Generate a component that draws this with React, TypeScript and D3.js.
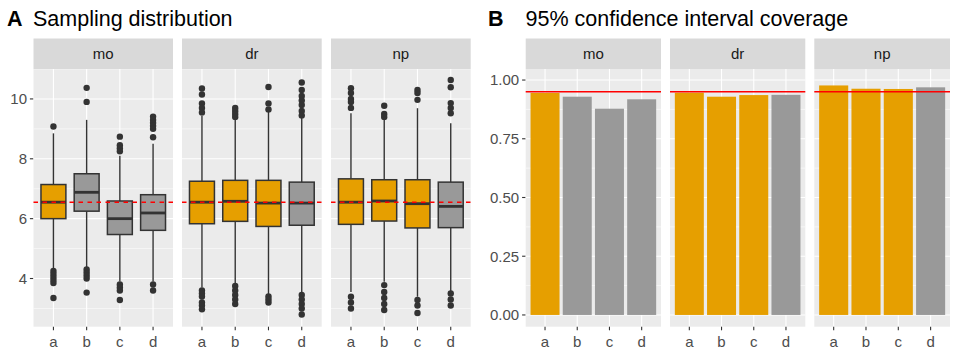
import React from 'react'
import * as d3 from 'd3'

// facets and x categories
const methods = ['mo', 'dr', 'np']
const categories = ['a', 'b', 'c', 'd']

// boxplot stats per category: [lower whisker, q1, median, q3, upper whisker]
const moBoxes = [
    [4.3, 6.0, 6.55, 7.14, 8.85],
    [4.35, 6.25, 6.88, 7.5, 9.3],
    [3.9, 5.47, 6.0, 6.59, 8.1],
    [3.9, 5.61, 6.19, 6.8, 8.5],
]
const drBoxes = [
    [3.7, 5.83, 6.55, 7.25, 9.45],
    [3.85, 5.91, 6.58, 7.28, 9.35],
    [3.45, 5.74, 6.52, 7.28, 9.6],
    [3.5, 5.78, 6.52, 7.22, 9.4],
]
const npBoxes = [
    [3.55, 5.81, 6.55, 7.33, 9.52],
    [3.89, 5.92, 6.59, 7.3, 9.47],
    [3.39, 5.69, 6.5, 7.3, 9.69],
    [3.55, 5.7, 6.41, 7.22, 9.19],
]

// outlying points per category
const moOutliers = [
    [9.08, 4.25, 4.15, 4.05, 3.95, 3.85, 3.35],
    [10.37, 9.9, 4.3, 4.2, 4.1, 4.0, 3.53],
    [8.74, 8.45, 8.35, 8.25, 3.8, 3.7, 3.6, 3.28],
    [9.41, 9.3, 9.2, 9.1, 9.0, 8.72, 3.8, 3.6],
]
const drOutliers = [
    [10.35, 10.15, 9.85, 9.7, 9.55, 3.6, 3.5, 3.4, 3.2, 3.1, 2.97],
    [9.7, 9.6, 9.5, 9.4, 3.75, 3.6, 3.45, 3.3, 3.15],
    [10.4, 9.85, 9.65, 3.4, 3.3, 3.2],
    [10.55, 10.3, 10.1, 9.95, 9.8, 9.6, 9.45, 3.45, 3.3, 3.15, 3.0, 2.8],
]
const npOutliers = [
    [10.36, 10.2, 10.0, 9.9, 9.7, 3.39, 3.2, 3.0],
    [9.77, 9.5, 9.4, 3.78, 3.55, 3.35, 3.15, 2.95],
    [10.3, 10.2, 9.97, 3.28, 3.1, 2.85],
    [10.63, 10.39, 9.86, 9.7, 9.52, 3.5, 3.3, 3.1],
]

// which categories are highlighted (orange)
const moHighlight = [true, false, false, false]
const drHighlight = [true, true, true, false]
const npHighlight = [true, true, true, false]

// coverage of the 95% interval
const moCoverage = [0.945, 0.929, 0.878, 0.918]
const drCoverage = [0.946, 0.929, 0.936, 0.937]
const npCoverage = [0.977, 0.963, 0.962, 0.969]

const trueValue = 6.55
const nominal = 0.95

const boxTicks = [4, 6, 8, 10]
const boxMinor = [3, 5, 7, 9, 11]
const covTicks = [0, 0.25, 0.5, 0.75, 1]
const covMinor = [0.125, 0.375, 0.625, 0.875]

const boxes = [moBoxes, drBoxes, npBoxes]
const outliers = [moOutliers, drOutliers, npOutliers]
const highlights = [moHighlight, drHighlight, npHighlight]
const coverage = [moCoverage, drCoverage, npCoverage]

const ORANGE = '#E69F00'
const GRAY = '#999999'
const DARK = '#333333'
const FONT = '"Liberation Sans", Arial, sans-serif'
const AXIS_SIZE = 15

const stripTop = 38.5
const stripH = 30.5
const plotTop = stripTop + stripH
const plotBottom = 326.7

function Strip({ x0, x1, label }: { x0: number, x1: number, label: string }) {
    return (
        <g>
            <rect x={x0} y={stripTop} width={x1 - x0} height={stripH} fill="#D9D9D9" />
            <text x={(x0 + x1) / 2} y={stripTop + stripH / 2 + 5.5} textAnchor="middle"
                fontSize={AXIS_SIZE} fill="#1A1A1A">{label}</text>
        </g>
    )
}

function Panel({ x0, x1, y, major, minor, children, label }: any) {
    const x = d3.scaleBand().domain(categories).range([x0, x1]).paddingOuter(0.1).paddingInner(0)
    return (
        <g>
            <rect x={x0} y={plotTop} width={x1 - x0} height={plotBottom - plotTop} fill="#EBEBEB" />
            {minor.map((t: number) => (
                <line key={'mn' + t} x1={x0} x2={x1} y1={y(t)} y2={y(t)} stroke="#fff" strokeWidth={0.55} />
            ))}
            {major.map((t: number) => (
                <line key={'mj' + t} x1={x0} x2={x1} y1={y(t)} y2={y(t)} stroke="#fff" strokeWidth={1.1} />
            ))}
            {categories.map(c => {
                const cx = x(c)! + x.bandwidth() / 2
                return (
                    <g key={c}>
                        <line x1={cx} x2={cx} y1={plotTop} y2={plotBottom} stroke="#fff" strokeWidth={1.1} />
                        <line x1={cx} x2={cx} y1={plotBottom} y2={plotBottom + 3.6} stroke={DARK} strokeWidth={1.1} />
                        <text x={cx} y={plotBottom + 20.5} textAnchor="middle" fontSize={AXIS_SIZE} fill="#4D4D4D">{c}</text>
                    </g>
                )
            })}
            {children(x)}
            <Strip x0={x0} x1={x1} label={label} />
        </g>
    )
}

function YAxis({ x0, y, ticks, fmt }: any) {
    return (
        <g>
            {ticks.map((t: number) => (
                <g key={t}>
                    <line x1={x0 - 3.6} x2={x0} y1={y(t)} y2={y(t)} stroke={DARK} strokeWidth={1.1} />
                    <text x={x0 - 6.5} y={y(t) + 5.3} textAnchor="end" fontSize={AXIS_SIZE} fill="#4D4D4D">{fmt(t)}</text>
                </g>
            ))}
        </g>
    )
}

export default function App() {
    const aPanels = [[33.5, 173], [182, 321.7], [331, 470.7]]
    const bPanels = [[525.7, 661], [670, 805.3], [814.3, 950]]
    const yA = d3.scaleLinear().domain([2.39, 11.0]).range([plotBottom, plotTop])
    const yB = d3.scaleLinear().domain([-0.05, 1.047]).range([plotBottom, plotTop])

    return (
        <svg width={959} height={360} style={{ position: 'absolute', left: 0, top: 0, fontFamily: FONT }}>
            <rect width={959} height={360} fill="#fff" />
            <text x={7} y={26} fontSize={21.5} fontWeight="bold">A</text>
            <text x={33} y={26} fontSize={21.5}>Sampling distribution</text>
            <text x={488} y={26} fontSize={21.5} fontWeight="bold">B</text>
            <text x={525.5} y={26} fontSize={21.5}>95% confidence interval coverage</text>

            <YAxis x0={aPanels[0][0]} y={yA} ticks={boxTicks} fmt={(t: number) => String(t)} />
            {methods.map((m, i) => (
                <Panel key={'a' + m} x0={aPanels[i][0]} x1={aPanels[i][1]} y={yA}
                    major={boxTicks} minor={boxMinor} label={m}>
                    {(x: any) => (
                        <g>
                            {categories.map((c, j) => {
                                const [lo, q1, med, q3, hi] = boxes[i][j]
                                const cx = x(c) + x.bandwidth() / 2
                                const bw = x.bandwidth() * 0.75
                                return (
                                    <g key={c}>
                                        <line x1={cx} x2={cx} y1={yA(hi)} y2={yA(q3)} stroke={DARK} strokeWidth={1.4} />
                                        <line x1={cx} x2={cx} y1={yA(q1)} y2={yA(lo)} stroke={DARK} strokeWidth={1.4} />
                                        <rect x={cx - bw / 2} y={yA(q3)} width={bw} height={yA(q1) - yA(q3)}
                                            fill={highlights[i][j] ? ORANGE : GRAY} stroke={DARK} strokeWidth={1.5} />
                                        <line x1={cx - bw / 2} x2={cx + bw / 2} y1={yA(med)} y2={yA(med)}
                                            stroke={DARK} strokeWidth={2.8} />
                                        {outliers[i][j].map((v, k) => (
                                            <circle key={k} cx={cx} cy={yA(v)} r={3.2} fill={DARK} />
                                        ))}
                                    </g>
                                )
                            })}
                            <line x1={aPanels[i][0]} x2={aPanels[i][1]} y1={yA(trueValue)} y2={yA(trueValue)}
                                stroke="#FF0000" strokeWidth={1.5} strokeDasharray="4.5 4.5" />
                        </g>
                    )}
                </Panel>
            ))}

            <YAxis x0={bPanels[0][0]} y={yB} ticks={covTicks} fmt={d3.format('.2f')} />
            {methods.map((m, i) => (
                <Panel key={'b' + m} x0={bPanels[i][0]} x1={bPanels[i][1]} y={yB}
                    major={covTicks} minor={covMinor} label={m}>
                    {(x: any) => (
                        <g>
                            {categories.map((c, j) => {
                                const cx = x(c) + x.bandwidth() / 2
                                const bw = x.bandwidth() * 0.9
                                return (
                                    <rect key={c} x={cx - bw / 2} y={yB(coverage[i][j])} width={bw}
                                        height={yB(0) - yB(coverage[i][j])}
                                        fill={highlights[i][j] ? ORANGE : GRAY} />
                                )
                            })}
                            <line x1={bPanels[i][0]} x2={bPanels[i][1]} y1={yB(nominal)} y2={yB(nominal)}
                                stroke="#FF0000" strokeWidth={1.5} />
                        </g>
                    )}
                </Panel>
            ))}
        </svg>
    )
}
